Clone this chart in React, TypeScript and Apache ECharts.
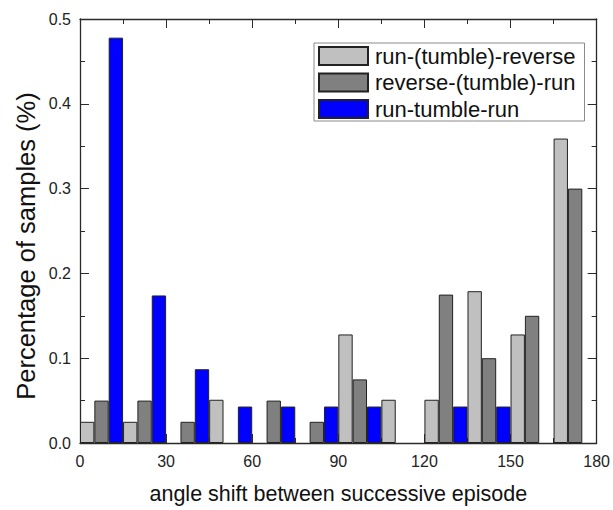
import React, { useEffect, useRef } from "react";
import * as echarts from "echarts";

// Histogram bins of 15 degrees; each bin holds three 5-degree bars.
const binStarts = [0, 15, 30, 45, 60, 75, 90, 105, 120, 135, 150, 165];
const runTumbleReverse = [0.025, 0.025, 0, 0.051, 0, 0, 0.128, 0.051, 0.051, 0.179, 0.128, 0.359];
const reverseTumbleRun = [0.05, 0.05, 0.025, 0, 0.05, 0.025, 0.075, 0, 0.175, 0.1, 0.15, 0.3];
const runTumbleRun = [0.478, 0.174, 0.087, 0.043, 0.043, 0.043, 0.043, 0, 0.043, 0.043, 0, 0];

const seriesNames = ["run-(tumble)-reverse", "reverse-(tumble)-run", "run-tumble-run"];
const seriesColors = ["#c0c0c0", "#808080", "#0000ff"];
const xTicks = [0, 30, 60, 90, 120, 150, 180];

const FONT = "'Liberation Sans', Arial, sans-serif";

export default function App() {
  const ref = useRef<HTMLDivElement>(null);

  useEffect(() => {
    document.body.style.margin = "0";
    if (!ref.current) return;
    const chart = echarts.init(ref.current, undefined, { renderer: "svg" });

    // 36 slots of 5 degrees: slot 3k is the first series of bin k, etc.
    const slots: string[] = [];
    binStarts.forEach((s) => {
      for (let j = 0; j < 3; j++) slots.push(`${s + 5 * j}-${s + 5 * j + 5}`);
    });
    const all = [runTumbleReverse, reverseTumbleRun, runTumbleRun];
    const seriesData = all.map((vals, si) =>
      slots.map((_, i) => (i % 3 === si && vals[Math.floor(i / 3)] > 0 ? vals[Math.floor(i / 3)] : "-"))
    );

    const axisLine = { show: true, onZero: false, lineStyle: { color: "#2a2a2a", width: 1.3 } };
    const tickStyle = { color: "#2a2a2a", width: 1 };
    const ticks = { show: true, inside: true, length: 9, lineStyle: tickStyle };
    const minor = { show: true, splitNumber: 2, length: 5, lineStyle: tickStyle };

    chart.setOption({
      animation: false,
      backgroundColor: "#fff",
      textStyle: { fontFamily: FONT },
      grid: { left: 80, right: 15, top: 19, bottom: 66, containLabel: false },
      legend: {
        orient: "vertical",
        left: 314,
        top: 43,
        padding: [2, 9, 1, 4],
        itemWidth: 49,
        itemHeight: 18,
        itemGap: 4.5,
        backgroundColor: "#fff",
        borderColor: "#8a8a8a",
        borderWidth: 1,
        data: seriesNames.map((n) => ({ name: n, icon: "rect" })),
        textStyle: { fontSize: 22, color: "#111", fontFamily: FONT, padding: [0, 0, 0, 2] },
      },
      graphic: [
        {
          type: "text",
          x: 26,
          y: 246,
          rotation: Math.PI / 2,
          style: {
            text: "Percentage of samples (%)",
            fontSize: 25.5,
            fontFamily: FONT,
            fill: "#111",
            align: "center",
            verticalAlign: "middle",
          },
        },
      ],
      xAxis: [
        {
          type: "category",
          data: slots,
          boundaryGap: true,
          show: false,
        },
        {
          type: "value",
          position: "bottom",
          min: 0,
          max: 180,
          interval: 30,
          axisLine,
          axisTick: ticks,
          minorTick: minor,
          splitLine: { show: false },
          axisLabel: {
            color: "#222",
            fontSize: 16,
            margin: 10,
            customValues: xTicks,
          },
          name: "angle shift between successive episode",
          nameLocation: "middle",
          nameGap: 40,
          nameTextStyle: { fontSize: 21.5, color: "#111", fontFamily: FONT },
        },
        {
          type: "value",
          position: "top",
          min: 0,
          max: 180,
          interval: 30,
          axisLine,
          axisTick: ticks,
          minorTick: minor,
          splitLine: { show: false },
          axisLabel: { show: false },
        },
      ],
      yAxis: [
        {
          type: "value",
          position: "left",
          min: 0,
          max: 0.5,
          interval: 0.1,
          axisLine,
          axisTick: ticks,
          minorTick: minor,
          splitLine: { show: false },
          axisLabel: {
            color: "#222",
            fontSize: 16,
            margin: 9,
            formatter: (v: number) => v.toFixed(1),
          },
        },
        {
          type: "value",
          position: "right",
          min: 0,
          max: 0.5,
          interval: 0.1,
          axisLine,
          axisTick: ticks,
          minorTick: minor,
          splitLine: { show: false },
          axisLabel: { show: false },
        },
      ],
      series: seriesNames.map((name, si) => ({
        name,
        type: "bar",
        xAxisIndex: 0,
        yAxisIndex: 0,
        data: seriesData[si],
        barWidth: "100%",
        barGap: "-100%",
        barCategoryGap: "0%",
        itemStyle: { color: seriesColors[si], borderColor: "#222", borderWidth: 1 },
      })),
    });

    return () => chart.dispose();
  }, []);

  return <div ref={ref} style={{ width: 613, height: 510 }} />;
}
